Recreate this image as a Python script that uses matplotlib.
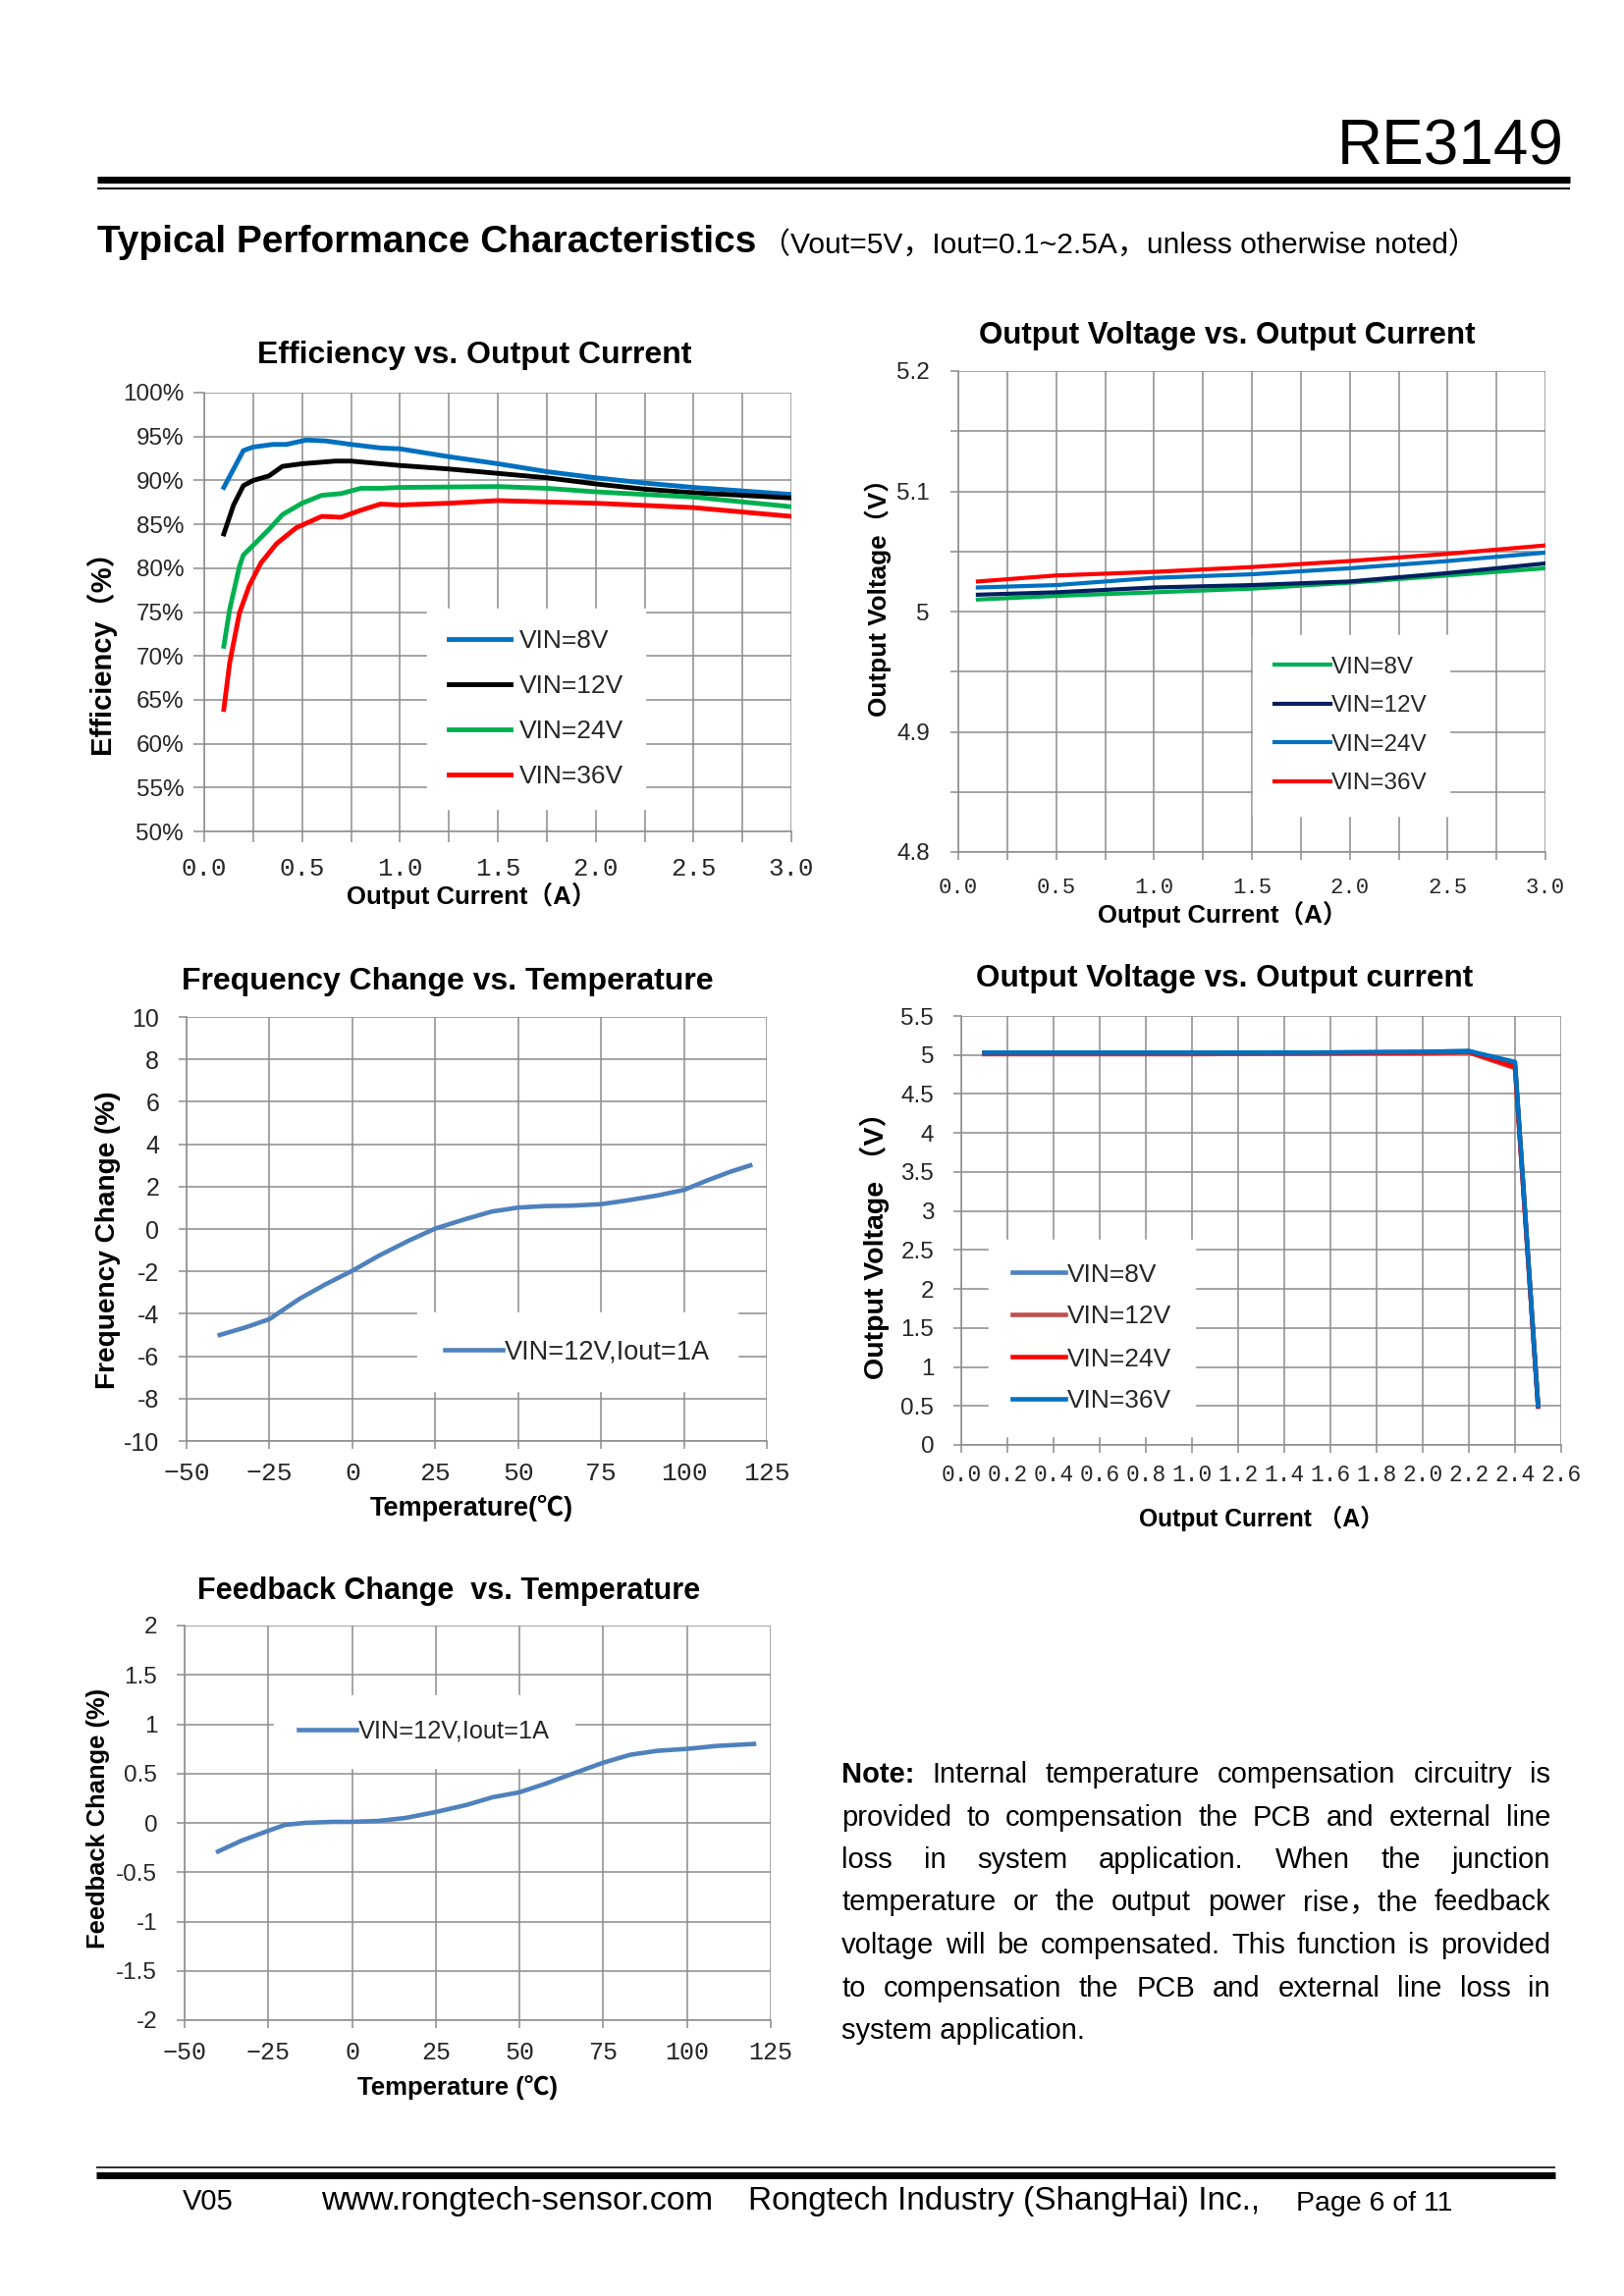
import matplotlib
matplotlib.use("Agg")
import matplotlib.pyplot as plt
from matplotlib.lines import Line2D
import numpy as np

eff_i_8v = [0.1, 0.2, 0.25, 0.35, 0.42, 0.52, 0.62, 0.75, 0.9, 1.0, 1.25, 1.5, 1.75, 2.0, 2.25, 2.5, 2.75, 3.0]
eff_8v = [89.2, 93.4, 93.8, 94.1, 94.1, 94.6, 94.5, 94.1, 93.7, 93.6, 92.7, 91.9, 91.0, 90.3, 89.7, 89.2, 88.8, 88.4]
eff_i_12v = [0.1, 0.15, 0.2, 0.25, 0.33, 0.4, 0.5, 0.67, 0.75, 0.9, 1.0, 1.25, 1.5, 1.75, 2.0, 2.25, 2.5, 2.75, 3.0]
eff_12v = [83.9, 87.2, 89.4, 90.0, 90.5, 91.6, 91.9, 92.2, 92.2, 91.9, 91.7, 91.3, 90.8, 90.3, 89.6, 89.0, 88.6, 88.3, 88.0]
eff_i_24v = [0.1, 0.13, 0.18, 0.2, 0.25, 0.33, 0.4, 0.5, 0.6, 0.7, 0.8, 0.9, 1.0, 1.5, 1.75, 2.0, 2.5, 3.0]
eff_24v = [71.1, 75.3, 80.2, 81.5, 82.6, 84.4, 86.1, 87.4, 88.3, 88.5, 89.1, 89.1, 89.2, 89.3, 89.1, 88.7, 88.1, 87.0]
eff_i_36v = [0.1, 0.13, 0.18, 0.23, 0.29, 0.37, 0.47, 0.6, 0.7, 0.8, 0.9, 1.0, 1.25, 1.5, 2.0, 2.5, 3.0]
eff_36v = [63.9, 69.2, 74.9, 78.0, 80.6, 82.8, 84.6, 85.9, 85.8, 86.6, 87.3, 87.2, 87.4, 87.7, 87.4, 86.9, 85.9]
eff_xtick_labels = ["0.0", "", "0.5", "", "1.0", "", "1.5", "", "2.0", "", "2.5", "", "3.0"]
eff_ytick_labels = ["50%", "55%", "60%", "65%", "70%", "75%", "80%", "85%", "90%", "95%", "100%"]

vo_i = [0.1, 0.5, 1.0, 1.5, 2.0, 2.5, 3.0]
vo_8v = [5.010, 5.013, 5.016, 5.019, 5.024, 5.030, 5.036]
vo_12v = [5.014, 5.016, 5.020, 5.022, 5.025, 5.032, 5.040]
vo_24v = [5.020, 5.022, 5.028, 5.031, 5.036, 5.042, 5.049]
vo_36v = [5.025, 5.030, 5.033, 5.037, 5.042, 5.048, 5.055]
vo_xtick_labels = ["0.0", "", "0.5", "", "1.0", "", "1.5", "", "2.0", "", "2.5", "", "3.0"]
vo_ytick_labels = ["4.8", "", "4.9", "", "5", "", "5.1", "", "5.2"]

freq_t = [-40, -32, -25, -16, -8, 0, 8, 17, 25, 34, 42, 50, 58, 66, 75, 83, 92, 100, 107, 114, 120]
freq_chg = [-5.0, -4.63, -4.25, -3.3, -2.6, -1.97, -1.26, -0.55, 0.02, 0.46, 0.82, 1.01, 1.08, 1.10, 1.17, 1.35, 1.58, 1.84, 2.29, 2.70, 3.0]
temp_tick_labels = ["\u221250", "\u221225", "0", "25", "50", "75", "100", "125"]
freq_ytick_labels = ["-10", "-8", "-6", "-4", "-2", "0", "2", "4", "6", "8", "10"]

lim_i = [0.1, 0.5, 1.0, 1.5, 2.0, 2.2, 2.4, 2.5]
lim_8v = [5.02, 5.02, 5.02, 5.03, 5.04, 5.05, 4.88, 0.50]
lim_12v = [5.01, 5.01, 5.01, 5.02, 5.02, 5.03, 4.83, 0.50]
lim_24v = [5.02, 5.02, 5.02, 5.02, 5.03, 5.04, 4.85, 0.49]
lim_36v = [5.03, 5.03, 5.03, 5.03, 5.04, 5.05, 4.91, 0.50]
lim_xtick_labels = ["0.0", "0.2", "0.4", "0.6", "0.8", "1.0", "1.2", "1.4", "1.6", "1.8", "2.0", "2.2", "2.4", "2.6"]
lim_ytick_labels = ["0", "0.5", "1", "1.5", "2", "2.5", "3", "3.5", "4", "4.5", "5", "5.5"]

fb_t = [-40, -33, -25, -20, -14, -6, 0, 8, 16, 25, 34, 42, 50, 58, 66, 75, 83, 91, 100, 109, 120]
fb_chg = [-0.29, -0.18, -0.08, -0.02, 0.0, 0.01, 0.01, 0.02, 0.05, 0.11, 0.18, 0.26, 0.31, 0.40, 0.50, 0.61, 0.69, 0.73, 0.75, 0.78, 0.80]
fb_ytick_labels = ["-2", "-1.5", "-1", "-0.5", "0", "0.5", "1", "1.5", "2"]

note_lines = [
    "Note: Internal temperature compensation circuitry is",
    "provided to compensation the PCB and external line",
    "loss in system application. When the junction",
    "temperature or the output power rise\uff0cthe feedback",
    "voltage will be compensated. This function is provided",
    "to compensation the PCB and external line loss in",
    "system application.",
]

SANS = ["Liberation Sans", "Noto Sans CJK SC", "DejaVu Sans"]
MONO = ["Liberation Mono", "DejaVu Sans Mono"]
plt.rcParams["font.family"] = SANS
plt.rcParams["axes.unicode_minus"] = False

GRID = "#8c8c8c"
TXT = "#262626"

W, H = 1654, 2339
fig = plt.figure(figsize=(W / 100, H / 100), dpi=100)
fig.patch.set_facecolor("white")


def rect(l, t, r, b):
    return [l / W, 1 - b / H, (r - l) / W, (b - t) / H]


def fx(x):
    return x / W


def fy(y):
    return 1 - y / H


def ftext(x, y, s, **kw):
    return fig.text(fx(x), fy(y), s, **kw)


def hline(x0, x1, y, lw_px, color="black"):
    fig.add_artist(Line2D([fx(x0), fx(x1)], [fy(y), fy(y)], lw=lw_px * 0.72,
                          color=color, transform=fig.transFigure, solid_capstyle="butt"))


def style_axes(ax, xlim, ylim, xticks, xlabels, yticks, ylabels,
               xfs=17, yfs=17, xpad=8, ypad=12, tick_len=6):
    ax.set_xlim(xlim)
    ax.set_ylim(ylim)
    ax.set_xticks(xticks)
    ax.set_xticklabels(xlabels, fontfamily=MONO, fontsize=xfs, color=TXT)
    ax.set_yticks(yticks)
    ax.set_yticklabels(ylabels, fontsize=yfs, color=TXT)
    ax.grid(True, color=GRID, lw=1.1)
    ax.set_axisbelow(True)
    for s in ["top", "right"]:
        ax.spines[s].set_visible(False)
    for s in ["left", "bottom"]:
        ax.spines[s].set_color(GRID)
        ax.spines[s].set_linewidth(1.1)
    ax.tick_params(direction="out", length=tick_len, width=1.1, color=GRID)
    ax.tick_params(axis="x", pad=xpad)
    ax.tick_params(axis="y", pad=ypad)


def labels(ax, xl, xpos, xfs, yl, ypos, yfs):
    ax.set_xlabel(xl, fontsize=xfs, weight="bold", va="center")
    ax.xaxis.set_label_coords(fx(xpos[0]), fy(xpos[1]), transform=fig.transFigure)
    ax.set_ylabel(yl, fontsize=yfs, weight="bold", va="center")
    ax.yaxis.set_label_coords(fx(ypos[0]), fy(ypos[1]), transform=fig.transFigure)


def legend(ax, cx, cy, fs=16, hl=2.6, htp=0.1, ls=0.8, bp=0.9):
    leg = ax.legend(loc="center", bbox_to_anchor=(fx(cx), fy(cy)), bbox_transform=fig.transFigure,
                    frameon=True, fancybox=False, facecolor="white", edgecolor="white",
                    framealpha=1, fontsize=fs, handlelength=hl, handletextpad=htp,
                    labelspacing=ls, borderpad=bp)
    for t in leg.get_texts():
        t.set_color(TXT)
    return leg


# ---- header ----
ftext(1593, 150, "RE3149", ha="right", va="center", fontsize=46)
hline(99, 1599, 183, 7)
hline(99, 1599, 192, 2)
ftext(99, 247, "Typical Performance Characteristics", fontsize=28, weight="bold", va="center")
ftext(775, 249, "\uff08Vout=5V\uff0cIout=0.1~2.5A\uff0cunless otherwise noted\uff09", fontsize=21.6, va="center")

# ---- efficiency ----
ax1 = fig.add_axes(rect(208, 400, 806, 847))
ax1.plot(eff_i_8v, eff_8v, color="#0070C0", lw=3.5, label="VIN=8V")
ax1.plot(eff_i_12v, eff_12v, color="black", lw=3.5, label="VIN=12V")
ax1.plot(eff_i_24v, eff_24v, color="#00B050", lw=3.5, label="VIN=24V")
ax1.plot(eff_i_36v, eff_36v, color="#FF0000", lw=3.5, label="VIN=36V")
style_axes(ax1, (0, 3.0), (50, 100), np.arange(0, 3.01, 0.25), eff_xtick_labels,
           np.arange(50, 101, 5), eff_ytick_labels, xfs=18.5, yfs=17.5, xpad=11, ypad=7, tick_len=8)
legend(ax1, 546, 722, fs=19, hl=2.4, htp=0.35, ls=0.84, bp=0.8)
ftext(483, 362, "Efficiency vs. Output Current", ha="center", va="center", fontsize=23, weight="bold")
labels(ax1, "Output Current\uff08A\uff09", (480, 912), 18.5, "Efficiency\uff08%\uff09", (102, 657), 21)

# ---- output voltage vs current (load regulation) ----
ax2 = fig.add_axes(rect(976, 378, 1574, 868))
ax2.plot(vo_i, vo_8v, color="#00B050", lw=3, label="VIN=8V")
ax2.plot(vo_i, vo_12v, color="#002060", lw=3, label="VIN=12V")
ax2.plot(vo_i, vo_24v, color="#0070C0", lw=3, label="VIN=24V")
ax2.plot(vo_i, vo_36v, color="#FF0000", lw=3, label="VIN=36V")
style_axes(ax2, (0, 3.0), (4.8, 5.2), np.arange(0, 3.01, 0.25), vo_xtick_labels,
           np.linspace(4.8, 5.2, 9), vo_ytick_labels, xfs=16, yfs=17.5, xpad=13, ypad=15, tick_len=6)
legend(ax2, 1376, 739, fs=17.5, hl=2.35, htp=0.05, ls=0.72, bp=0.9)
ftext(1250, 342, "Output Voltage vs. Output Current", ha="center", va="center", fontsize=22.5, weight="bold")
labels(ax2, "Output Current\uff08A\uff09", (1245, 931), 18.5, "Output Voltage\uff08V\uff09", (894, 602), 18.8)

# ---- frequency change ----
ax3 = fig.add_axes(rect(190, 1036, 781, 1468))
ax3.plot(freq_t, freq_chg, color="#4F81BD", lw=3.3, label="VIN=12V,Iout=1A")
style_axes(ax3, (-50, 125), (-10, 10), np.arange(-50, 126, 25), temp_tick_labels,
           np.arange(-10, 11, 2), freq_ytick_labels, xfs=19, yfs=18, xpad=9, ypad=14, tick_len=6)
legend(ax3, 588, 1377, fs=19.5, hl=2.2, htp=0.08, bp=1.0)
ftext(456, 1000, "Frequency Change vs. Temperature", ha="center", va="center", fontsize=23, weight="bold")
labels(ax3, "Temperature(\u2103)", (480, 1536), 19.5, "Frequency Change (%)", (110, 1263), 20.2)

# ---- output voltage vs current (current limit) ----
ax4 = fig.add_axes(rect(979, 1035, 1590, 1472))
ax4.plot(lim_i, lim_8v, color="#4F81BD", lw=3.3, label="VIN=8V")
ax4.plot(lim_i, lim_12v, color="#C0504D", lw=3.3, label="VIN=12V")
ax4.plot(lim_i, lim_24v, color="#FF0000", lw=3.3, label="VIN=24V")
ax4.plot(lim_i, lim_36v, color="#0070C0", lw=3.3, label="VIN=36V")
style_axes(ax4, (0, 2.6), (0, 5.5), np.arange(0, 2.61, 0.2), lim_xtick_labels,
           np.arange(0, 5.51, 0.5), lim_ytick_labels, xfs=16.5, yfs=17.5, xpad=8, ypad=14, tick_len=6)
legend(ax4, 1112, 1363, fs=19, hl=2.05, htp=0.08, ls=0.72, bp=0.9)
ftext(1247, 997, "Output Voltage vs. Output current", ha="center", va="center", fontsize=22.7, weight="bold")
labels(ax4, "Output Current \uff08A\uff09", (1285, 1547), 17.7, "Output Voltage \uff08V\uff09", (891, 1262), 20.5)

# ---- feedback change ----
ax5 = fig.add_axes(rect(188, 1656, 785, 2058))
ax5.plot(fb_t, fb_chg, color="#4F81BD", lw=3.3, label="VIN=12V,Iout=1A")
style_axes(ax5, (-50, 125), (-2, 2), np.arange(-50, 126, 25), temp_tick_labels,
           np.arange(-2, 2.01, 0.5), fb_ytick_labels, xfs=18, yfs=17.5, xpad=9, ypad=14, tick_len=6)
legend(ax5, 432, 1764, fs=18.3, hl=2.3, htp=0.08, bp=1.0)
ftext(457, 1621, "Feedback Change  vs. Temperature", ha="center", va="center", fontsize=22, weight="bold")
labels(ax5, "Temperature (\u2103)", (466, 2127), 18.5, "Feedback Change (%)", (100, 1852), 18.4)

# ---- note (justified) ----
NOTE_FS = 21
x0, x1 = 857, 1579
renderer = fig.canvas.get_renderer()
for i, line in enumerate(note_lines):
    y = 1808 + i * 43.5 + 8
    if i == len(note_lines) - 1:
        ftext(x0, y, line, fontsize=NOTE_FS, va="baseline")
        continue
    words = line.split(" ")
    texts = []
    for j, w in enumerate(words):
        weight = "bold" if (i == 0 and j == 0) else "normal"
        texts.append(ftext(0, y, w, fontsize=NOTE_FS, weight=weight, va="baseline"))
    widths = [t.get_window_extent(renderer).width for t in texts]
    gap = (x1 - x0 - sum(widths)) / (len(words) - 1)
    x = x0
    for t, wd in zip(texts, widths):
        t.set_x(fx(x))
        x += wd + gap

# ---- footer ----
hline(98, 1584, 2208, 2, color="#333333")
hline(98, 1584, 2216, 7)
ftext(186, 2243, "V05", fontsize=21, va="center")
ftext(327, 2243, "www.rongtech-sensor.com", fontsize=24.5, va="center")
ftext(762, 2243, "Rongtech Industry (ShangHai) Inc.,", fontsize=24, va="center")
ftext(1320, 2245, "Page 6 of 11", fontsize=20.5, va="center")

fig.savefig("out.png", dpi=100, facecolor="white")
